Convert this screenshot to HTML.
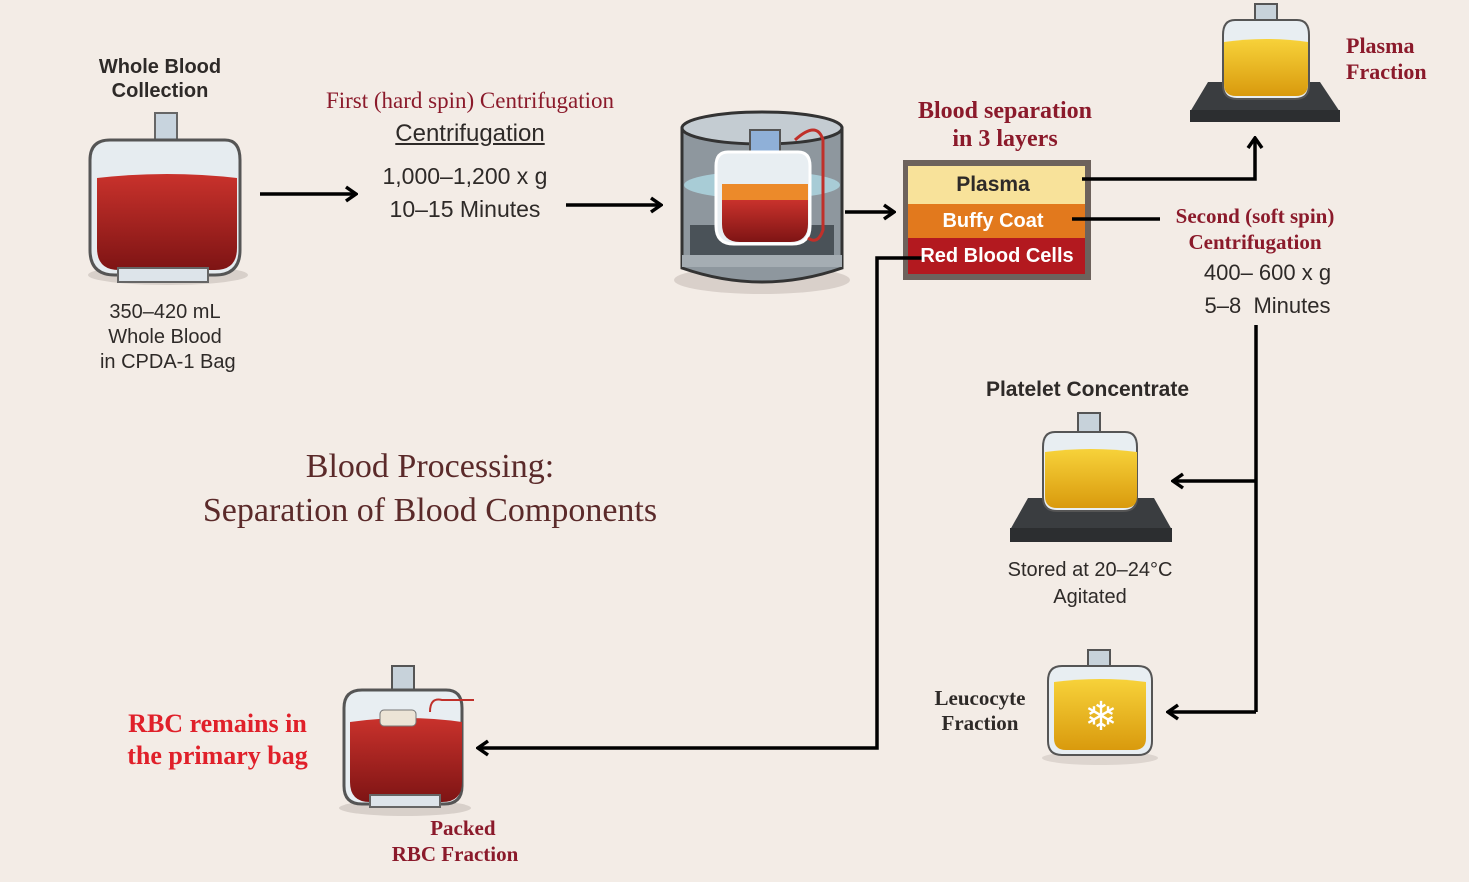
<!DOCTYPE html>
<html><head><meta charset="utf-8"><style>
body{margin:0;width:1469px;height:882px;background:#f3ece6;position:relative;overflow:hidden;font-family:"Liberation Sans",sans-serif}
.t{position:absolute;text-align:center;white-space:nowrap}
.serif{font-family:"Liberation Serif",serif}
.red{color:#8b1a2b}
.dark{color:#2e2a28}
svg{position:absolute;left:0;top:0}
</style></head><body>
<svg width="1469" height="882" viewBox="0 0 1469 882">
<defs>
<marker id="ah" markerWidth="14" markerHeight="18" refX="12" refY="9" orient="auto" markerUnits="userSpaceOnUse"><path d="M2,2 L12,9 L2,16" fill="none" stroke="#000" stroke-width="3.5"/></marker>
<linearGradient id="rb" x1="0" y1="0" x2="0" y2="1"><stop offset="0" stop-color="#c9322c"/><stop offset="1" stop-color="#7e1414"/></linearGradient>
<linearGradient id="yb" x1="0" y1="0" x2="0" y2="1"><stop offset="0" stop-color="#f7d23a"/><stop offset="1" stop-color="#d99a0d"/></linearGradient>
</defs>
<g>
<ellipse cx="168" cy="275" rx="80" ry="10" fill="#d8d0ca"/>
<rect x="155" y="113" width="22" height="30" fill="#c8d4de" stroke="#666" stroke-width="2"/>
<path d="M110,140 h115 q15,0 15,20 v90 q0,25 -25,25 h-100 q-25,0 -25,-25 v-90 q0,-20 20,-20z" fill="#e6ecf0" stroke="#555" stroke-width="3"/>
<path d="M97,178 q70,-8 140,0 v70 q0,22 -22,22 h-96 q-22,0 -22,-22z" fill="url(#rb)"/>
<rect x="118" y="268" width="90" height="14" fill="#dde4ea" stroke="#666" stroke-width="2"/>
</g>
<g>
<ellipse cx="762" cy="280" rx="88" ry="14" fill="#d9d0ca"/>
<path d="M682,128 v140 q80,28 160,0 v-140z" fill="#8e979e" stroke="#333" stroke-width="3"/>
<ellipse cx="762" cy="128" rx="80" ry="16" fill="#c4ccd2" stroke="#333" stroke-width="3"/>
<ellipse cx="762" cy="185" rx="78" ry="14" fill="#a8ccd6"/>
<rect x="690" y="225" width="144" height="30" fill="#4a5258"/>
<rect x="750" y="130" width="30" height="25" fill="#8fb0d8" stroke="#555" stroke-width="2"/>
<path d="M728,152 h70 q12,0 12,14 v60 q0,18 -18,18 h-58 q-18,0 -18,-18 v-60 q0,-14 12,-14z" fill="#e8eef2" stroke="#fff" stroke-width="3"/>
<rect x="722" y="184" width="86" height="16" fill="#ec8a2a"/>
<path d="M722,200 h86 v24 q0,18 -18,18 h-50 q-18,0 -18,-18z" fill="url(#rb)"/>
<path d="M795,140 q22,-20 28,0 v90 q-5,15 -15,8" fill="none" stroke="#c0302a" stroke-width="3"/>
<rect x="682" y="255" width="160" height="12" fill="#a5adb3"/>
</g>
<rect x="903" y="160" width="188" height="120" fill="#6d625c"/>
<rect x="908" y="166" width="177" height="38" fill="#f8e29a"/>
<rect x="908" y="204" width="177" height="34" fill="#e2791d"/>
<rect x="908" y="238" width="177" height="36" fill="#b3191f"/>
<g>
<path d="M1190,112 l18,-30 h112 l20,30 v10 h-150z" fill="#3a3d40"/>
<rect x="1190" y="110" width="150" height="12" fill="#2c2e30"/>
<rect x="1255" y="4" width="22" height="20" fill="#c7d2da" stroke="#555" stroke-width="2"/>
<path d="M1235,20 h62 q12,0 12,15 v50 q0,14 -14,14 h-58 q-14,0 -14,-14 v-50 q0,-15 12,-15z" fill="#e8eef2" stroke="#555" stroke-width="2"/>
<path d="M1224,42 q42,-6 84,0 v42 q0,12 -12,12 h-60 q-12,0 -12,-12z" fill="url(#yb)"/>
</g>
<g>
<path d="M1010,530 l18,-32 h126 l18,32 v10 h-162z" fill="#3a3d40"/>
<rect x="1010" y="528" width="162" height="14" fill="#2c2e30"/>
<rect x="1078" y="413" width="22" height="20" fill="#c7d2da" stroke="#555" stroke-width="2"/>
<path d="M1055,432 h70 q12,0 12,15 v50 q0,14 -14,14 h-66 q-14,0 -14,-14 v-50 q0,-15 12,-15z" fill="#e8eef2" stroke="#555" stroke-width="2"/>
<path d="M1045,452 q46,-6 92,0 v44 q0,12 -12,12 h-68 q-12,0 -12,-12z" fill="url(#yb)"/>
</g>
<g>
<ellipse cx="1100" cy="758" rx="58" ry="7" fill="#ddd5cf"/>
<rect x="1088" y="650" width="22" height="20" fill="#c7d2da" stroke="#555" stroke-width="2"/>
<path d="M1062,666 h76 q14,0 14,15 v60 q0,14 -14,14 h-76 q-14,0 -14,-14 v-60 q0,-15 14,-15z" fill="#e8eef2" stroke="#555" stroke-width="2"/>
<path d="M1054,682 q46,-6 92,0 v56 q0,12 -12,12 h-68 q-12,0 -12,-12z" fill="url(#yb)"/>
<text x="1101" y="730" font-size="40" fill="#fff" text-anchor="middle">❄</text>
</g>
<g>
<ellipse cx="405" cy="808" rx="66" ry="8" fill="#d8d0ca"/>
<rect x="392" y="666" width="22" height="28" fill="#c7d2da" stroke="#555" stroke-width="2"/>
<path d="M362,690 h84 q16,0 16,18 v78 q0,18 -18,18 h-82 q-18,0 -18,-18 v-78 q0,-18 18,-18z" fill="#e8eef2" stroke="#555" stroke-width="3"/>
<path d="M350,722 q56,-8 112,0 v60 q0,20 -20,20 h-72 q-20,0 -20,-20z" fill="url(#rb)"/>
<rect x="380" y="710" width="36" height="16" rx="4" fill="#ece4d6" stroke="#777"/>
<path d="M430,712 q0,-15 12,-12 q30,0 32,0" fill="none" stroke="#c0302a" stroke-width="2"/>
<rect x="370" y="795" width="70" height="12" fill="#dde4ea" stroke="#666" stroke-width="2"/>
</g>
<g stroke="#000" stroke-width="3.5" fill="none">
<line x1="260" y1="194" x2="356" y2="194" marker-end="url(#ah)"/>
<line x1="566" y1="205" x2="661" y2="205" marker-end="url(#ah)"/>
<line x1="845" y1="212" x2="894" y2="212" marker-end="url(#ah)"/>
<polyline points="1082,179 1255,179 1255,138" marker-end="url(#ah)"/>
<line x1="1072" y1="219" x2="1160" y2="219"/>
<polyline points="925,258 877,258 877,748 478,748" marker-end="url(#ah)"/>
<line x1="1256" y1="325" x2="1256" y2="712"/>
<line x1="1256" y1="481" x2="1173" y2="481" marker-end="url(#ah)"/>
<line x1="1256" y1="712" x2="1168" y2="712" marker-end="url(#ah)"/>
</g>
</svg>

<div class="t dark" style="left:80px;top:55px;width:160px;font-size:20px;font-weight:bold;line-height:24px">Whole Blood<br>Collection</div>
<div class="t dark" style="left:90px;top:300px;width:150px;font-size:20px;line-height:25px">350–420 mL<br>Whole Blood<br>&nbsp;in CPDA-1 Bag</div>
<div class="t serif red" style="left:300px;top:88px;width:340px;font-size:23px">First (hard spin) Centrifugation</div>
<div class="t dark" style="left:370px;top:120px;width:200px;font-size:24px;text-decoration:underline">Centrifugation</div>
<div class="t dark" style="left:360px;top:160px;width:210px;font-size:23px;line-height:33px">1,000–1,200 x g<br>10–15 Minutes</div>
<div class="t serif red" style="left:900px;top:97px;width:210px;font-size:24px;line-height:28px;font-weight:bold">Blood separation<br>in 3 layers</div>
<div class="t dark" style="left:908px;top:173px;width:170px;font-size:21px;font-weight:bold">Plasma</div>
<div class="t" style="left:908px;top:210px;width:170px;font-size:20px;font-weight:bold;color:#fff">Buffy Coat</div>
<div class="t" style="left:912px;top:245px;width:170px;font-size:20px;font-weight:bold;color:#fff">Red Blood Cells</div>
<div class="t serif red" style="left:1346px;top:33px;width:95px;font-size:22px;line-height:26px;font-weight:bold;text-align:left">Plasma<br>Fraction</div>
<div class="t serif red" style="left:1160px;top:203px;width:190px;font-size:21px;line-height:26px;font-weight:bold">Second (soft spin)<br>Centrifugation</div>
<div class="t dark" style="left:1185px;top:256px;width:165px;font-size:22px;line-height:33px">400– 600 x g<br>5–8&nbsp; Minutes</div>
<div class="t dark" style="left:985px;top:378px;width:205px;font-size:21px;font-weight:bold">Platelet Concentrate</div>
<div class="t dark" style="left:995px;top:557px;width:190px;font-size:20px;line-height:27px">Stored at 20–24°C<br>Agitated</div>
<div class="t serif dark" style="left:920px;top:686px;width:120px;font-size:21px;line-height:25px;font-weight:bold">Leucocyte<br>Fraction</div>
<div class="t serif" style="left:190px;top:445px;width:480px;font-size:34px;line-height:44px;color:#5b2a2a">Blood Processing:<br>Separation of Blood Components</div>
<div class="t serif" style="left:110px;top:708px;width:215px;font-size:26px;line-height:32px;font-weight:bold;color:#e0202a">RBC remains in<br>the primary bag</div>
<div class="t serif red" style="left:380px;top:815px;width:150px;font-size:21px;line-height:26px;font-weight:bold">&nbsp;&nbsp;&nbsp;Packed<br>RBC Fraction</div>
</body></html>
